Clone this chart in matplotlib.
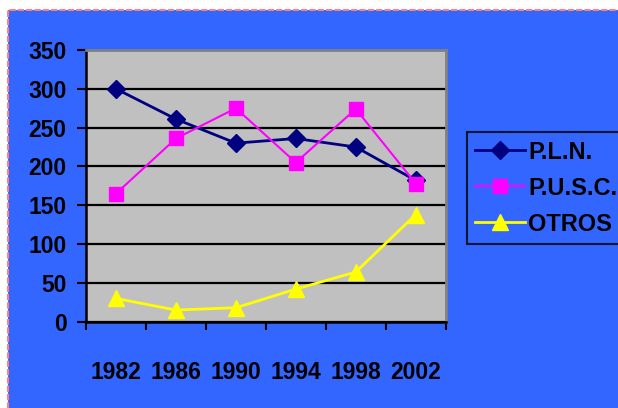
import matplotlib
matplotlib.use("Agg")
import matplotlib.pyplot as plt
from matplotlib.patches import Rectangle

years = ["1982", "1986", "1990", "1994", "1998", "2002"]
pln = [300, 261, 230, 236, 225, 182]
pusc = [165, 236, 275, 205, 274, 178]
otros = [30, 15, 18, 42, 64, 138]
series_names = ["P.L.N.", "P.U.S.C.", "OTROS"]
yticks = [0, 50, 100, 150, 200, 250, 300, 350]

plt.rcParams['font.family'] = ['Liberation Sans', 'DejaVu Sans']
plt.rcParams['font.weight'] = 'bold'

W, H = 618, 408
fig = plt.figure(figsize=(W / 100, H / 100), dpi=100, facecolor='white')

bg = Rectangle((8 / W, -0.02), 1.1, 1 - 9.5 / H + 0.02, transform=fig.transFigure,
               facecolor='#3366FF', edgecolor='#FF8080', lw=1.5, ls=(0, (3, 1)), zorder=-5)
fig.patches.append(bg)

L, R, T, B = 86, 445.7, 50, 321.7
ax = fig.add_axes([L / W, 1 - B / H, (R - L) / W, (B - T) / H])
ax.set_zorder(2)
ax.set_facecolor('#C0C0C0')

x = list(range(len(years)))
ax.plot(x, pln, color='#000080', lw=2, marker='D', markersize=9, zorder=3, label=series_names[0])
ax.plot(x, pusc, color='#FF00FF', lw=1.5, marker='s', markersize=10, zorder=4, label=series_names[1])
ax.plot(x, otros, color='#FFFF00', lw=2, marker='^', markersize=12, zorder=3, label=series_names[2])

ax.set_xlim(-0.5, len(years) - 0.5)
ax.set_ylim(0, 350)
ax.set_yticks(yticks)
ax.set_yticklabels([str(v) for v in yticks], fontsize=16.5, fontweight='bold')
ax.set_xticks(x)
ax.set_xticklabels(years, fontsize=16.5, fontweight='bold')
ax.set_xticks([i - 0.5 for i in range(len(years) + 1)], minor=True)
ax.tick_params(axis='x', which='major', length=0, pad=28)
ax.tick_params(axis='x', which='minor', length=5.8, width=1.5, direction='out', color='black')
ax.tick_params(axis='y', which='major', length=6.5, width=1.5, direction='out', color='black', pad=7.5)

ax.yaxis.grid(True, color='black', lw=1.6)
ax.set_axisbelow(True)
for s in ['top', 'right']:
    ax.spines[s].set_color('#808080')
    ax.spines[s].set_linewidth(2)
for s in ['left', 'bottom']:
    ax.spines[s].set_color('black')
    ax.spines[s].set_linewidth(1.8)

leg = fig.legend(loc='upper left', bbox_to_anchor=(466.7 / W, 1 - 132.3 / H),
                 bbox_transform=fig.transFigure, fontsize=17, frameon=True,
                 fancybox=False, handlelength=2.1, handletextpad=0.15,
                 labelspacing=0.55, borderpad=0.35, borderaxespad=0)
leg.set_zorder(3)
leg.get_frame().set_facecolor('#3366FF')
leg.get_frame().set_edgecolor('black')
leg.get_frame().set_linewidth(1.5)
for t in leg.get_texts():
    t.set_fontweight('bold')

fig.savefig('out.png', dpi=100, facecolor='white')
